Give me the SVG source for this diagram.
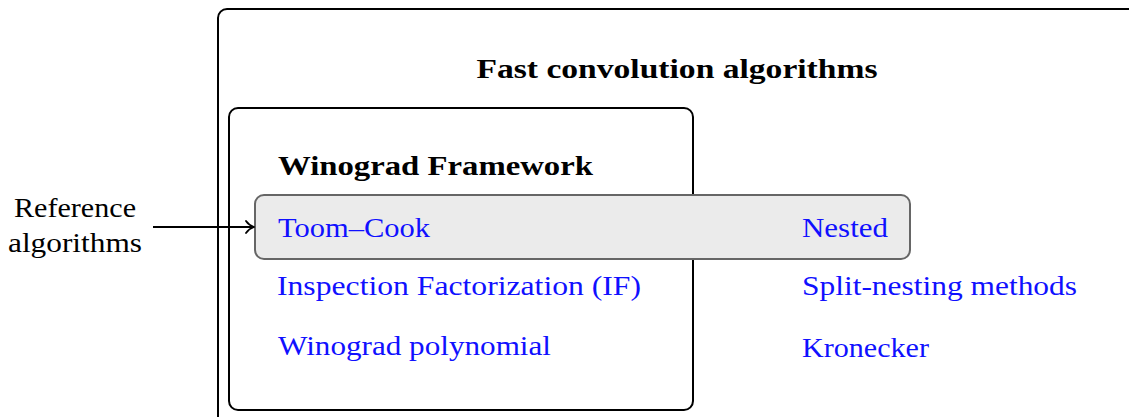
<svg xmlns="http://www.w3.org/2000/svg" width="1129" height="417" viewBox="0 0 1129 417">
  <style>
    text { font-family: "Liberation Serif", "DejaVu Serif", serif; font-size: 28px; }
    .title { font-weight: bold; fill: #000; }
    .algo { fill: #1010ff; }
    .plain { fill: #000; }
    .frame { fill: none; stroke: #000; stroke-width: 2; }
  </style>
  <defs>
    <marker id="arrow" viewBox="0 0 10 14" refX="9" refY="7" markerWidth="10" markerHeight="14" markerUnits="userSpaceOnUse" orient="auto">
      <path d="M1,1 C3,4 6,6 9,7 C6,8 3,10 1,13" fill="none" stroke="#000" stroke-width="1.8" stroke-linecap="round"/>
    </marker>
  </defs>

  <!-- outer frame: fast convolution algorithms -->
  <g id="fast-convolution">
    <rect class="frame" x="218" y="9" width="930" height="430" rx="9"/>
    <text class="title" x="677" y="78" text-anchor="middle" textLength="401" lengthAdjust="spacingAndGlyphs">Fast convolution algorithms</text>
  </g>

  <!-- Winograd framework box -->
  <g id="winograd-framework">
    <rect class="frame" x="229" y="108" width="464" height="302" rx="9"/>
    <text class="title" x="278" y="175" textLength="315" lengthAdjust="spacingAndGlyphs">Winograd Framework</text>
  </g>

  <!-- highlighted reference row -->
  <g id="reference-row">
    <rect x="255" y="195" width="655" height="64" rx="9" fill="#ebebeb" stroke="#666" stroke-width="2"/>
    <text class="algo" x="278" y="237" textLength="152" lengthAdjust="spacingAndGlyphs">Toom–Cook</text>
    <text class="algo" x="802" y="237" textLength="86" lengthAdjust="spacingAndGlyphs">Nested</text>
  </g>

  <g id="inspection-factorization">
    <text class="algo" x="277" y="295" textLength="364" lengthAdjust="spacingAndGlyphs">Inspection Factorization (IF)</text>
  </g>
  <g id="split-nesting">
    <text class="algo" x="802" y="295" textLength="275" lengthAdjust="spacingAndGlyphs">Split-nesting methods</text>
  </g>
  <g id="winograd-polynomial">
    <text class="algo" x="278" y="355" textLength="273" lengthAdjust="spacingAndGlyphs">Winograd polynomial</text>
  </g>
  <g id="kronecker">
    <text class="algo" x="802" y="357" textLength="127" lengthAdjust="spacingAndGlyphs">Kronecker</text>
  </g>

  <!-- label on the left -->
  <g id="reference-label">
    <text class="plain" x="14" y="217" textLength="122" lengthAdjust="spacingAndGlyphs">Reference</text>
    <text class="plain" x="8" y="252" textLength="134" lengthAdjust="spacingAndGlyphs">algorithms</text>
  </g>

  <!-- connectors -->
  <g id="connectors">
    <line x1="153" y1="227" x2="254" y2="227" stroke="#000" stroke-width="2" marker-end="url(#arrow)"/>
  </g>
</svg>
